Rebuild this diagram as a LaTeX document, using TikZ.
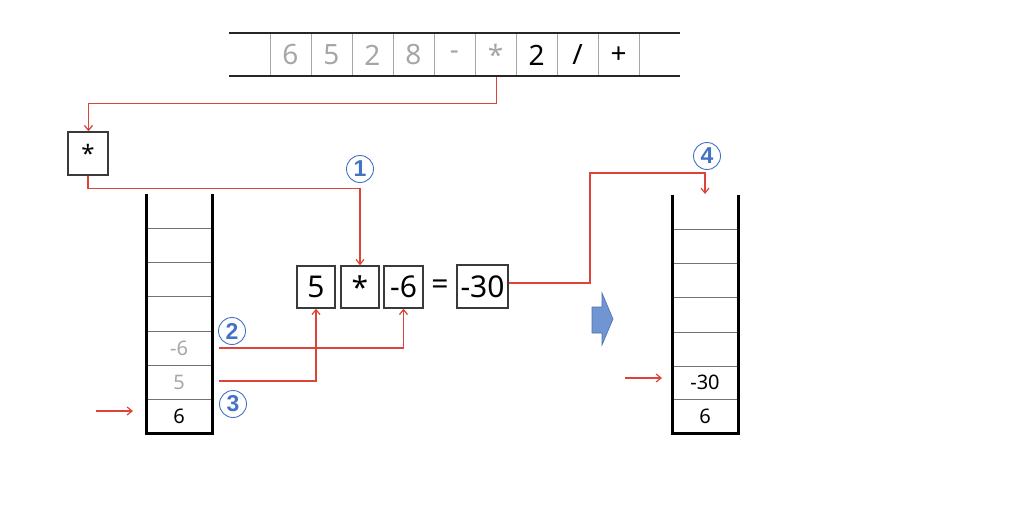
\documentclass[tikz,border=0pt]{standalone}
\usepackage{fontspec}
\setmainfont{Noto Sans}
\newfontfamily\circfont{Liberation Sans}
\usetikzlibrary{arrows.meta,calc}
\definecolor{redl}{HTML}{DC4339}
\definecolor{cblue}{HTML}{4472C4}
\definecolor{grayt}{HTML}{A6A6A6}
\definecolor{boxline}{HTML}{3A3A3A}
\definecolor{arrowfill}{HTML}{6F95D3}
\definecolor{arrowdraw}{HTML}{4A6FAF}
\begin{document}
\begin{tikzpicture}[x=1pt,y=-1pt,
  redarrow/.style={draw=redl, line width=1.2pt, -{Straight Barb[length=5pt,width=8pt]}},
  arrcell/.style={minimum width=41pt, minimum height=43pt, inner sep=0pt, font=\fontsize{28}{28}\selectfont},
  midbox/.style={draw=boxline, line width=1.3pt, minimum height=42pt, inner sep=0pt, font=\fontsize{30}{30}\selectfont},
  stkcell/.style={minimum width=64pt, minimum height=34pt, inner sep=0pt, font=\fontsize{20}{20}\selectfont},
  wall/.style={line width=3pt, line join=miter, draw=black},
  divider/.style={draw=black!55, line width=1pt},
  circnum/.style={circle, draw=cblue, line width=0.9pt, text=cblue, inner sep=0pt, minimum size=27pt, font=\circfont\bfseries\fontsize{23}{23}\selectfont},
]
\useasboundingbox (0,0) rectangle (1019,514);

% ---------- top array ----------
\draw[black!85, line width=1.2pt] (229,33) -- (680,33);
\draw[black!85, line width=1.2pt] (229,76) -- (680,76);
\foreach \k in {0,...,9} {
  \draw[black!35, line width=1pt] (270+41*\k,33.6) -- (270+41*\k,75.4);
}
\node[arrcell, text=grayt] (a1) at (290.5,55) {6};
\node[arrcell, text=grayt] (a2) at (331.5,55) {5};
\node[arrcell, text=grayt] (a3) at (372.5,55) {2};
\node[arrcell, text=grayt] (a4) at (413.5,55) {8};
\node[arrcell, text=grayt] (a5) at (454.5,55) {-};
\node[arrcell, text=grayt] (a6) at (495.5,55) {*};
\node[arrcell] (a7) at (536.5,55) {2};
\node[arrcell] (a8) at (577.5,55) {/};
\node[arrcell] (a9) at (618.5,55) {+};

% ---------- operator box ----------
\node[draw=boxline, line width=1.3pt, minimum width=40pt, minimum height=43pt, inner sep=0pt,
      font=\fontsize{24}{24}\selectfont] (op) at (88,153.5) {*};

% ---------- left stack ----------
\node[stkcell] (l7) at (179,211) {};
\node[stkcell] (l6) at (179,245) {};
\node[stkcell] (l5) at (179,279) {};
\node[stkcell] (l4) at (179,314) {};
\node[stkcell, text=grayt] (l3) at (179,348) {-6};
\node[stkcell, text=grayt] (l2) at (179,382) {5};
\node[stkcell] (l1) at (179,416) {6};
\foreach \yy in {228,262,296.5,331,365,399} {
  \draw[divider] (146,\yy) -- (212,\yy);
}
\draw[wall] (146,194) -- (146,433) -- (212,433) -- (212,194);

% ---------- expression ----------
\node[midbox, minimum width=38pt] (m5) at (316,287) {5};
\node[midbox, minimum width=38pt] (mstar) at (360,287) {*};
\node[midbox, minimum width=39pt] (m6) at (403.5,287) {-6};
\node[inner sep=0pt, font=\fontsize{30}{30}\selectfont] (eq) at (440,287) {=};
\node[midbox, minimum width=51pt, minimum height=43pt] (m30) at (482.5,286.5) {-30};

% ---------- right stack ----------
\node[stkcell] (r7) at (705,212) {};
\node[stkcell] (r6) at (705,246) {};
\node[stkcell] (r5) at (705,280) {};
\node[stkcell] (r4) at (705,314.5) {};
\node[stkcell] (r3) at (705,349) {};
\node[stkcell] (r2) at (705,382.5) {-30};
\node[stkcell] (r1) at (705,416) {6};
\foreach \yy in {229,263,297,332,366,399} {
  \draw[divider] (672,\yy) -- (738,\yy);
}
\draw[wall] (672,195) -- (672,433) -- (738,433) -- (738,195);

% ---------- blue arrow ----------
\filldraw[fill=arrowfill, draw=arrowdraw, line width=0.6pt]
  (592,307) -- (602,307) -- (602,293) -- (613,319) -- (602,345) -- (602,333) -- (592,333) -- cycle;

% ---------- circled numbers ----------
\node[circnum] (c1) at (360,169) {1};
\node[circnum] (c2) at (232,331) {2};
\node[circnum] (c3) at (233,404) {3};
\node[circnum] (c4) at (707,156) {4};

% ---------- red connectors ----------
\coordinate (s6) at ($(a6.south)+(1,0)$);
\coordinate (opin) at ($(op.north)+(0.5,0)$);
\draw[redarrow] (s6) -- ++(0,27) -| (opin);
\draw[redarrow] (op.south) -- ++(0,12.5) -| (mstar.north);
\coordinate (s3) at ($(l3.east)+(8,0)$);
\coordinate (s2) at ($(l2.east)+(8,-1)$);
\draw[redarrow] (s3) -| (m6.south);
\draw[redarrow] (s2) -| (m5.south);
\coordinate (p30) at ($(m30.east)+(0,-3.5)$);
\coordinate (bend) at (590,283);
\coordinate (rtop) at (705,194);
\draw[redarrow] (p30) -- (bend) |- ++(115,-110) -- (rtop);
\coordinate (ptrLs) at (96,411);
\coordinate (ptrLe) at (133,411);
\draw[redarrow] (ptrLs) -- (ptrLe);
\coordinate (ptrRs) at (625,378);
\coordinate (ptrRe) at (662,378);
\draw[redarrow] (ptrRs) -- (ptrRe);
\end{tikzpicture}
\end{document}
